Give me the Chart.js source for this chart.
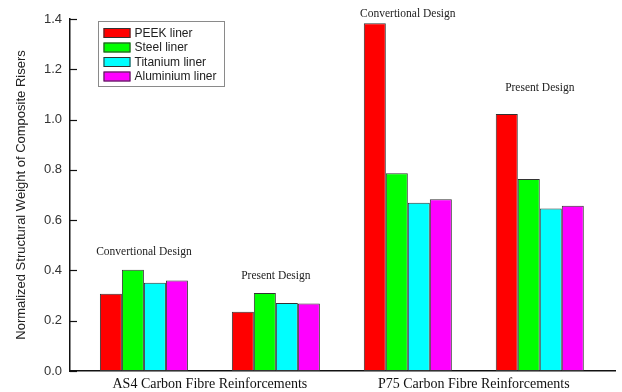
<!DOCTYPE html>
<html>
<head>
<meta charset="utf-8">
<script src="https://cdn.jsdelivr.net/npm/chart.js@4"></script>
<style>
  html, body { margin: 0; padding: 0; background: #fff; }
  #wrap { width: 622px; height: 392px; }
</style>
</head>
<body>
<div id="wrap"><canvas id="weightChart" width="622" height="392"></canvas></div>
<script>
// groups along the x axis (1..4) and their design labels
var groups = [1, 2, 3, 4];
var designNames = ['Convertional Design', 'Present Design', 'Convertional Design', 'Present Design'];
// where each design label sits, in y units
var designNoteAt = [0.472, 0.377, 1.42, 1.125];

// fibre families, centred between their two groups
var fibreAt = [1.5, 3.5];
var fibreNames = ['AS4 Carbon Fibre Reinforcements', 'P75 Carbon Fibre Reinforcements'];

var linerNames = ['PEEK liner', 'Steel liner', 'Titanium liner', 'Aluminium liner'];
var linerColors = ['#ff0000', '#00ff00', '#00ffff', '#ff00ff'];

// normalized weights per liner, one value per group
var peek = [0.307, 0.236, 1.383, 1.022];
var steel = [0.403, 0.310, 0.787, 0.764];
var titanium = [0.351, 0.270, 0.669, 0.646];
var aluminium = [0.360, 0.268, 0.683, 0.657];

var yTicks = [0, 0.2, 0.4, 0.6, 0.8, 1.0, 1.2, 1.4];

var series = [peek, steel, titanium, aluminium];

// legend box drawn inside the plot
var boxLegend = {
    id: 'boxLegend',
    afterDraw: function (chart) {
        var ctx = chart.ctx;
        var a = chart.chartArea;
        var x0 = a.left + 28.5, y0 = a.top + 2.5;
        ctx.save();
        ctx.strokeStyle = '#8a8a8a';
        ctx.lineWidth = 1;
        ctx.strokeRect(x0, y0, 126, 65);
        ctx.font = '12px "Liberation Sans", Arial, sans-serif';
        ctx.textBaseline = 'middle';
        chart.data.datasets.forEach(function (ds, i) {
            var cy = y0 + 11.5 + i * 14.5;
            ctx.fillStyle = ds.backgroundColor;
            ctx.fillRect(x0 + 5, cy - 5, 27, 10);
            ctx.strokeStyle = '#333';
            ctx.strokeRect(x0 + 5.5, cy - 4.5, 26, 9);
            ctx.fillStyle = '#222';
            ctx.fillText(ds.label, x0 + 36, cy + 0.5);
        });
        ctx.restore();
    }
};

// inward tick marks on the y axis
var innerTicks = {
    id: 'innerTicks',
    afterDatasetsDraw: function (chart) {
        var ctx = chart.ctx;
        var ys = chart.scales.y;
        var left = chart.chartArea.left;
        ctx.save();
        ctx.strokeStyle = '#111';
        ctx.lineWidth = 1.2;
        yTicks.forEach(function (v) {
            var py = Math.round(ys.getPixelForValue(v)) + 0.5;
            ctx.beginPath();
            ctx.moveTo(left, py);
            ctx.lineTo(left + 7, py);
            ctx.stroke();
        });
        ctx.restore();
    }
};

// design labels above each group of bars
var designNotes = {
    id: 'designNotes',
    afterDatasetsDraw: function (chart) {
        var ctx = chart.ctx;
        var xs = chart.scales.x, ys = chart.scales.y;
        ctx.save();
        ctx.font = '11.5px "Liberation Serif", "Times New Roman", serif';
        ctx.fillStyle = '#222';
        ctx.textAlign = 'center';
        ctx.textBaseline = 'middle';
        groups.forEach(function (g, i) {
            ctx.fillText(designNames[i], xs.getPixelForValue(g), ys.getPixelForValue(designNoteAt[i]));
        });
        ctx.restore();
    }
};

var datasets = series.map(function (vals, i) {
    return {
        label: linerNames[i],
        data: vals.map(function (v, j) { return { x: groups[j], y: v }; }),
        backgroundColor: linerColors[i],
        borderColor: '#333',
        borderWidth: 1,
        borderSkipped: false,
        categoryPercentage: 0.667,
        barPercentage: 1.0
    };
});

var ctx = document.getElementById('weightChart').getContext('2d');
new Chart(ctx, {
    type: 'bar',
    data: { datasets: datasets },
    options: {
        responsive: false,
        animation: false,
        layout: { padding: { left: 0, top: 19, right: 7, bottom: 0 } },
        plugins: {
            legend: { display: false },
            tooltip: { enabled: false }
        },
        scales: {
            x: {
                type: 'linear',
                min: 0.44,
                max: 4.57,
                offset: false,
                afterFit: function (scale) { scale.height = 21; },
                afterBuildTicks: function (scale) {
                    scale.ticks = fibreAt.map(function (v) { return { value: v }; });
                },
                grid: { display: false, drawOnChartArea: false, drawTicks: false, offset: false },
                border: { display: true, color: '#111', width: 1.5 },
                ticks: {
                    padding: 5,
                    maxRotation: 0,
                    autoSkip: false,
                    color: '#111',
                    font: { family: '"Liberation Serif", "Times New Roman", serif', size: 14 },
                    callback: function (v) {
                        var k = fibreAt.indexOf(v);
                        return k >= 0 ? fibreNames[k] : '';
                    }
                }
            },
            y: {
                min: 0,
                max: 1.4,
                afterFit: function (scale) { scale.width = 70; },
                afterBuildTicks: function (scale) {
                    scale.ticks = yTicks.map(function (v) { return { value: v }; });
                },
                grid: { display: false, drawOnChartArea: false, drawTicks: false },
                border: { display: true, color: '#111', width: 1.5 },
                ticks: {
                    padding: 8,
                    color: '#333',
                    font: { family: '"Liberation Sans", Arial, sans-serif', size: 13 },
                    callback: function (v) { return v.toFixed(1); }
                },
                title: {
                    display: true,
                    text: 'Normalized Structural Weight of Composite Risers',
                    color: '#222',
                    padding: { top: 14, bottom: 0 },
                    font: { family: '"Liberation Sans", Arial, sans-serif', size: 13 }
                }
            }
        }
    },
    plugins: [boxLegend, innerTicks, designNotes]
});
</script>
</body>
</html>
